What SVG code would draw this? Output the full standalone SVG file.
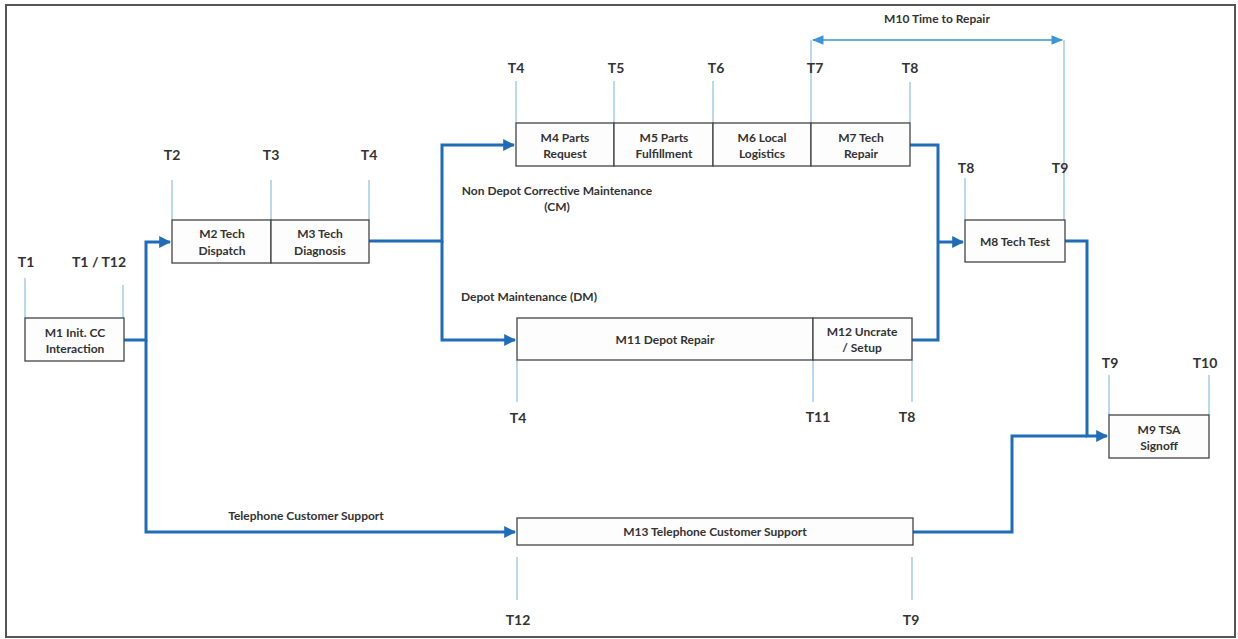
<svg xmlns="http://www.w3.org/2000/svg" width="1238" height="639" viewBox="0 0 1238 639">
<style>
.box{fill:#fdfdfd;stroke:#444;stroke-width:1.3}
.t{font-family:Lato,"Open Sans",sans-serif;font-weight:bold;font-size:12px;fill:#333;text-anchor:middle}
.lbl{font-family:Lato,"Open Sans",sans-serif;font-weight:bold;font-size:14px;fill:#333;text-anchor:middle}
.flow{fill:none;stroke:#1f6cb8;stroke-width:3}
.tick{stroke:#8cc0e6;stroke-width:1.2;fill:none}
</style>
<defs>
<marker id="ah" viewBox="0 0 10 10" refX="9" refY="5" markerWidth="4" markerHeight="4" orient="auto"><path d="M0,0 L10,5 L0,10 z" fill="#1f6cb8"/></marker>
<marker id="lah" viewBox="0 0 10 10" refX="9" refY="5" markerWidth="9" markerHeight="9" orient="auto-start-reverse"><path d="M0,1 L10,5 L0,9 z" fill="#3a96d8"/></marker>
</defs>
<rect width="1238" height="639" fill="#fff"/>
<rect x="6" y="5" width="1229" height="632" fill="none" stroke="#555" stroke-width="2"/>

<g id="ticks">
<line class="tick" x1="25" y1="278" x2="25" y2="318"/>
<line class="tick" x1="123" y1="285" x2="123" y2="318"/>
<line class="tick" x1="172" y1="180" x2="172" y2="220"/>
<line class="tick" x1="271" y1="180" x2="271" y2="220"/>
<line class="tick" x1="369" y1="180" x2="369" y2="220"/>
<line class="tick" x1="516" y1="81" x2="516" y2="123"/>
<line class="tick" x1="614" y1="81" x2="614" y2="123"/>
<line class="tick" x1="713" y1="81" x2="713" y2="123"/>
<line class="tick" x1="811" y1="40" x2="811" y2="123"/>
<line class="tick" x1="910" y1="82" x2="910" y2="123"/>
<line class="tick" x1="965" y1="178" x2="965" y2="220"/>
<line class="tick" x1="1064" y1="40" x2="1064" y2="220"/>
<line class="tick" x1="517" y1="360" x2="517" y2="402"/>
<line class="tick" x1="813" y1="360" x2="813" y2="402"/>
<line class="tick" x1="912" y1="360" x2="912" y2="402"/>
<line class="tick" x1="1109" y1="375" x2="1109" y2="415"/>
<line class="tick" x1="1209" y1="375" x2="1209" y2="415"/>
<line class="tick" x1="517" y1="557" x2="517" y2="600"/>
<line class="tick" x1="912" y1="557" x2="912" y2="600"/>
</g>

<g id="tlabels">
<text class="lbl" x="26" y="267">T1</text>
<text class="lbl" x="99" y="267">T1 / T12</text>
<text class="lbl" x="172" y="160">T2</text>
<text class="lbl" x="271" y="160">T3</text>
<text class="lbl" x="369" y="160">T4</text>
<text class="lbl" x="516" y="73">T4</text>
<text class="lbl" x="616" y="73">T5</text>
<text class="lbl" x="716" y="73">T6</text>
<text class="lbl" x="815" y="73">T7</text>
<text class="lbl" x="910" y="73">T8</text>
<text class="lbl" x="966" y="173">T8</text>
<text class="lbl" x="1060" y="173">T9</text>
<text class="lbl" x="518" y="423">T4</text>
<text class="lbl" x="818" y="422">T11</text>
<text class="lbl" x="907" y="422">T8</text>
<text class="lbl" x="1110" y="368">T9</text>
<text class="lbl" x="1205" y="368">T10</text>
<text class="lbl" x="518" y="625">T12</text>
<text class="lbl" x="911" y="625">T9</text>
</g>

<g id="connectors">
<path class="flow" d="M124,340 H146 V242 H170" marker-end="url(#ah)"/>
<path class="flow" d="M146,340 V532 H515" marker-end="url(#ah)"/>
<path class="flow" d="M369,241 H442 V145 H514" marker-end="url(#ah)"/>
<path class="flow" d="M442,241 V340 H515" marker-end="url(#ah)"/>
<path class="flow" d="M910,145 H938 V340 H912"/>
<path class="flow" d="M938,242 H963" marker-end="url(#ah)"/>
<path class="flow" d="M1065,241 H1087 V436 H1107" marker-end="url(#ah)"/>
<path class="flow" d="M913,532 H1012 V436 H1087"/>
<line x1="813" y1="40" x2="1062" y2="40" stroke="#3a96d8" stroke-width="1.3" marker-start="url(#lah)" marker-end="url(#lah)"/>
</g>

<g id="flowlabels">
<text class="t" x="937" y="23">M10 Time to Repair</text>
<text class="t" x="557" y="195">Non Depot Corrective Maintenance</text>
<text class="t" x="557" y="211">(CM)</text>
<text class="t" x="529" y="301">Depot Maintenance (DM)</text>
<text class="t" x="306" y="520">Telephone Customer Support</text>
</g>

<g id="M1"><rect class="box" x="25" y="318" width="99" height="43"/><text class="t" x="75" y="337">M1 Init. CC</text><text class="t" x="75" y="353">Interaction</text></g>
<g id="M2"><rect class="box" x="172" y="220" width="99" height="43"/><text class="t" x="222" y="238">M2 Tech</text><text class="t" x="222" y="255">Dispatch</text></g>
<g id="M3"><rect class="box" x="271" y="220" width="98" height="43"/><text class="t" x="320" y="238">M3 Tech</text><text class="t" x="320" y="255">Diagnosis</text></g>
<g id="M4"><rect class="box" x="516" y="123" width="98" height="43"/><text class="t" x="565" y="142">M4 Parts</text><text class="t" x="565" y="158">Request</text></g>
<g id="M5"><rect class="box" x="614" y="123" width="99" height="43"/><text class="t" x="664" y="142">M5 Parts</text><text class="t" x="664" y="158">Fulfillment</text></g>
<g id="M6"><rect class="box" x="713" y="123" width="98" height="43"/><text class="t" x="762" y="142">M6 Local</text><text class="t" x="762" y="158">Logistics</text></g>
<g id="M7"><rect class="box" x="811" y="123" width="99" height="43"/><text class="t" x="861" y="142">M7 Tech</text><text class="t" x="861" y="158">Repair</text></g>
<g id="M8"><rect class="box" x="965" y="220" width="100" height="42"/><text class="t" x="1015" y="246">M8 Tech Test</text></g>
<g id="M11"><rect class="box" x="517" y="318" width="296" height="42"/><text class="t" x="665" y="344">M11 Depot Repair</text></g>
<g id="M12"><rect class="box" x="813" y="318" width="99" height="42"/><text class="t" x="862" y="336">M12 Uncrate</text><text class="t" x="862" y="352">/ Setup</text></g>
<g id="M9"><rect class="box" x="1109" y="415" width="100" height="43"/><text class="t" x="1159" y="434">M9 TSA</text><text class="t" x="1159" y="450">Signoff</text></g>
<g id="M13"><rect class="box" x="517" y="518" width="396" height="27"/><text class="t" x="715" y="536">M13 Telephone Customer Support</text></g>
</svg>
